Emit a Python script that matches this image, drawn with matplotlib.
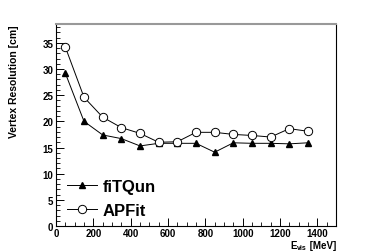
import matplotlib
matplotlib.use("Agg")
import matplotlib.pyplot as plt
from matplotlib.ticker import MultipleLocator

energy = [50, 150, 250, 350, 450, 550, 650, 750, 850, 950, 1050, 1150, 1250, 1350]
fitqun = [29.2, 20.0, 17.4, 16.7, 15.3, 15.8, 15.8, 15.8, 14.1, 15.9, 15.8, 15.8, 15.7, 15.9]
apfit = [34.2, 24.6, 20.8, 18.8, 17.7, 16.0, 16.1, 17.9, 17.9, 17.5, 17.3, 17.0, 18.6, 18.1]

plt.rcParams["font.family"] = ["Liberation Sans", "DejaVu Sans"]
plt.rcParams["font.weight"] = "bold"

W, H = 374, 253
fig = plt.figure(figsize=(W / 100, H / 100), dpi=100)
ax = fig.add_axes([56 / W, 1 - 227 / H, 280 / W, 202 / H])

ax.plot(energy, fitqun, color="black", lw=0.7, marker="^", ms=5,
        mfc="black", mec="black", label="fiTQun")
ax.plot(energy, apfit, color="black", lw=0.7, marker="o", ms=6,
        mfc="white", mec="black", mew=0.7, label="APFit")

ax.set_xlim(0, 1500)
ax.set_ylim(0, 38.6)
ax.xaxis.set_major_locator(MultipleLocator(200))
ax.xaxis.set_minor_locator(MultipleLocator(50))
ax.yaxis.set_major_locator(MultipleLocator(5))
ax.yaxis.set_minor_locator(MultipleLocator(1))
ax.tick_params(which="both", direction="in", top=False, right=False,
               labelsize=7, pad=2)
ax.tick_params(axis="x", pad=1.5)
ax.tick_params(which="major", length=6, width=0.7)
ax.tick_params(which="minor", length=3, width=0.6)
for s in ax.spines.values():
    s.set_linewidth(0.8)
ax.spines["top"].set_color("#999999")
ax.spines["top"].set_linewidth(1.5)

ax.set_ylabel("Vertex Resolution [cm]", fontsize=7.5, fontweight="bold",
              ha="right", va="center")
ax.yaxis.set_label_coords(-0.15, 1.0)

# x label built from pieces: E, subscript "vis", [MeV]
base = 1 - 249 / H
t_mev = fig.text(336 / W, base, " [MeV]", ha="right", va="baseline",
                 fontsize=7, fontweight="bold")
fig.canvas.draw()
r = fig.canvas.get_renderer()
x0 = t_mev.get_window_extent(r).x0 / (W)
t_vis = fig.text(x0, 1 - 250.5 / H, "vis", ha="right", va="baseline",
                 fontsize=5, fontweight="bold")
x1 = t_vis.get_window_extent(r).x0 / (W)
fig.text(x1, base, "E", ha="right", va="baseline", fontsize=7, fontweight="bold")

leg = ax.legend(loc="lower left", bbox_to_anchor=(-0.015, -0.035), frameon=False,
                prop={"size": 12, "weight": "bold"}, handlelength=1.8,
                handletextpad=0.35, labelspacing=0.55)

fig.savefig("out.png", dpi=100)
